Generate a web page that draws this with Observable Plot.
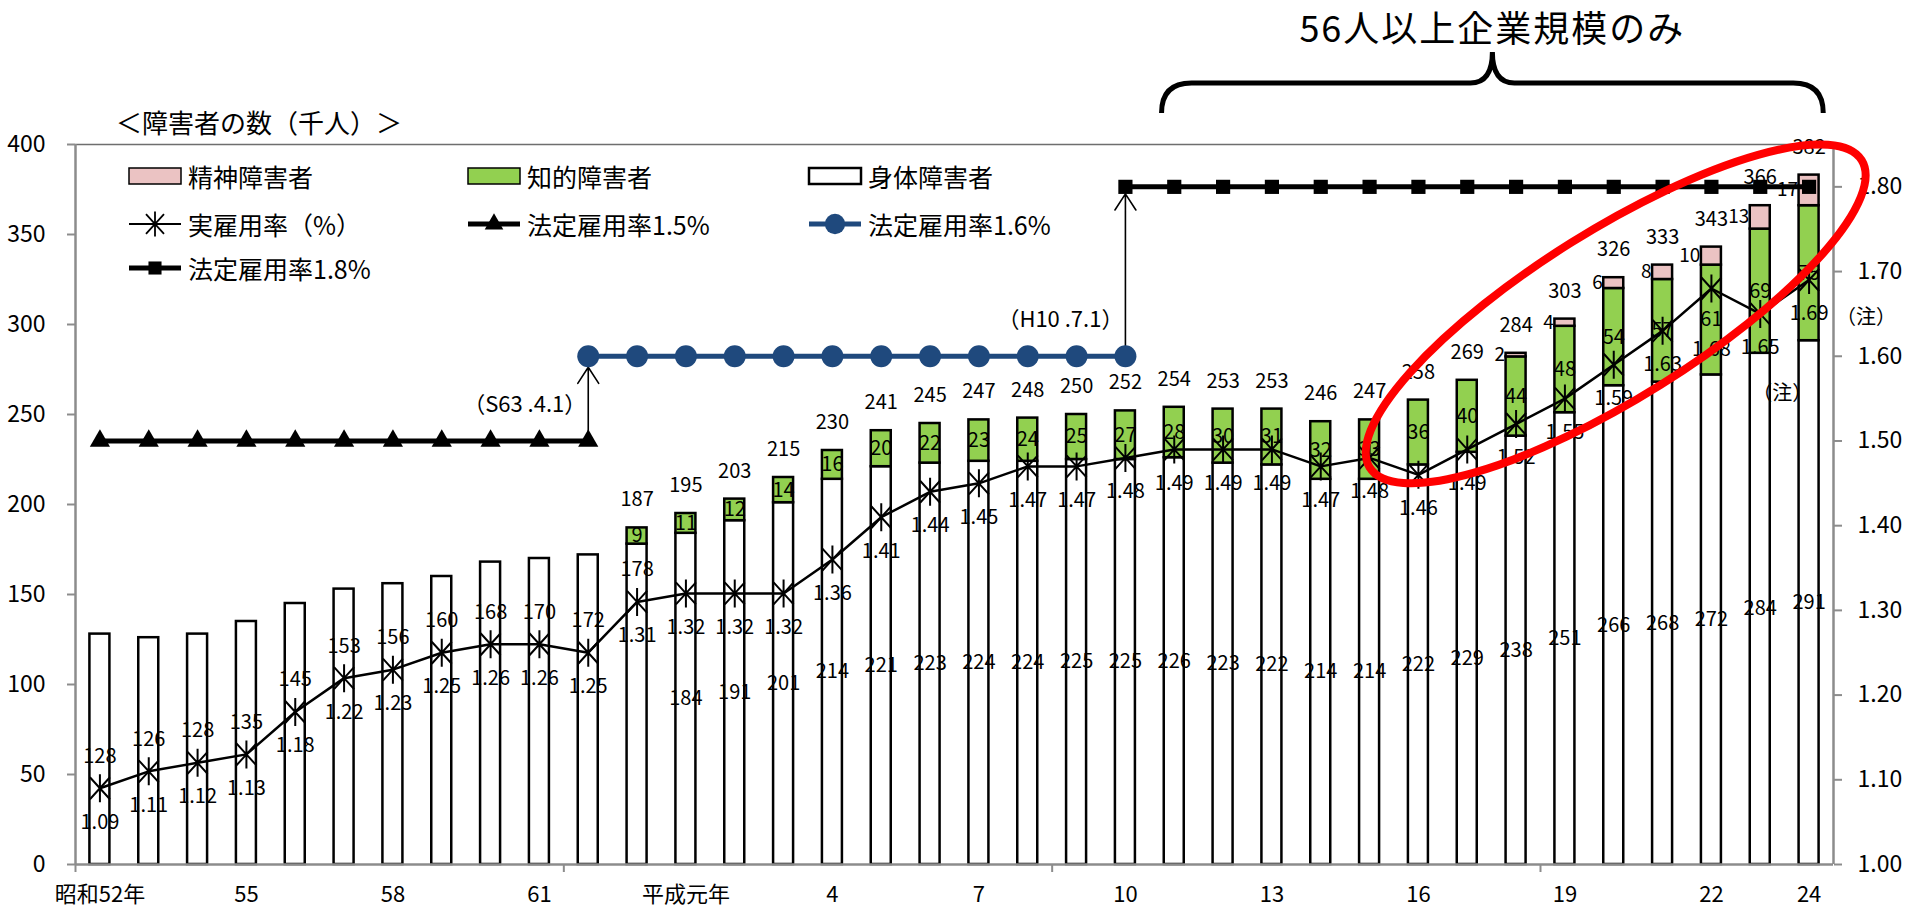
<!DOCTYPE html>
<html>
<head>
<meta charset="utf-8">
<script src="https://cdn.jsdelivr.net/npm/d3@7"></script>
<script src="https://cdn.jsdelivr.net/npm/@observablehq/plot@0.6"></script>
<style>
  html, body { margin: 0; padding: 0; background: #fff; }
  #chart svg { display: block; }
</style>
</head>
<body>
<div id="chart"></div>
<script>
// ---------------- data ----------------
const years = ["S52","S53","S54","S55","S56","S57","S58","S59","S60","S61","S62","S63",
  "H1","H2","H3","H4","H5","H6","H7","H8","H9","H10","H11","H12",
  "H13","H14","H15","H16","H17","H18","H19","H20","H21","H22","H23","H24"];

const tickIndex  = [0, 3, 6, 9, 12, 15, 18, 21, 24, 27, 30, 33, 35];
const tickLabels = ["昭和52年","55","58","61","平成元年","4","7","10","13","16","19","22","24"];

// 身体障害者 (thousand persons)
const physical = [128,126,128,135,145,153,156,160,168,170,172,178,
  184,191,201,214,221,223,224,224,225,225,226,223,
  222,214,214,222,229,238,251,266,268,272,284,291];
// 知的障害者
const intellectual = [null,null,null,null,null,null,null,null,null,null,null,9,
  11,12,14,16,20,22,23,24,25,27,28,30,
  31,32,33,36,40,44,48,54,57,61,69,75];
// 精神障害者
const mental = [null,null,null,null,null,null,null,null,null,null,null,null,
  null,null,null,null,null,null,null,null,null,null,null,null,
  null,null,null,null,null,2,4,6,8,10,13,17];
// total labels above the bars
const totals = [null,null,null,null,null,null,null,null,null,null,null,187,
  195,203,215,230,241,245,247,248,250,252,254,253,
  253,246,247,258,269,284,303,326,333,343,366,382];
// 実雇用率 (%)
const actualRate = [1.09,1.11,1.12,1.13,1.18,1.22,1.23,1.25,1.26,1.26,1.25,1.31,
  1.32,1.32,1.32,1.36,1.41,1.44,1.45,1.47,1.47,1.48,1.49,1.49,
  1.49,1.47,1.48,1.46,1.49,1.52,1.55,1.59,1.63,1.68,1.65,1.69];
// 法定雇用率 series
const legal15 = [1.5,1.5,1.5,1.5,1.5,1.5,1.5,1.5,1.5,1.5,1.5,null,
  null,null,null,null,null,null,null,null,null,null,null,null,
  null,null,null,null,null,null,null,null,null,null,null,null];
const legal16 = [null,null,null,null,null,null,null,null,null,null,1.6,1.6,
  1.6,1.6,1.6,1.6,1.6,1.6,1.6,1.6,1.6,1.6,null,null,
  null,null,null,null,null,null,null,null,null,null,null,null];
const legal18 = [null,null,null,null,null,null,null,null,null,null,null,null,
  null,null,null,null,null,null,null,null,null,1.8,1.8,1.8,
  1.8,1.8,1.8,1.8,1.8,1.8,1.8,1.8,1.8,1.8,1.8,1.8];

const rateTicks = [1.0,1.1,1.2,1.3,1.4,1.5,1.6,1.7,1.8];
const countTicks = [0,50,100,150,200,250,300,350,400];
const seriesNames = ["精神障害者","知的障害者","身体障害者","実雇用率（%）","法定雇用率1.5%","法定雇用率1.6%","法定雇用率1.8%"];
const arrowNotes = ["（S63 .4.1）","（H10 .7.1）"];
const noteText = "（注）";
const leftTitle = "＜障害者の数（千人）＞";
const braceTitle = "56人以上企業規模のみ";

// ---------------- layout / style ----------------
const FONT = '"Noto Sans CJK JP", "Noto Sans", sans-serif';
const GREEN = "#92D050", PINK = "#EBC3C3", BLUE = "#1F497D", GREY = "#8c8c8c";
const W = 1909, H = 909, mL = 75, mR = 76, mT = 144, mB = 45;
const N = years.length;
const plotH = H - mT - mB;
const yMax = 400;
const pxPerUnit = plotH / yMax;
const px = p => p / pxPerUnit;           // pixels -> y units
const rateLo = 1.0, rateHi = 1.85;
const rateToY = r => (r - rateLo) / (rateHi - rateLo) * yMax;
const yToRate = v => rateLo + v / yMax * (rateHi - rateLo);
const bandPx = (W - mL - mR) / N;
const barW = 20;
const barInset = (bandPx - barW) / 2;
const LBL = 20, MLBL = 19, LINEBOX = 29;
const mentDx = -(barW / 2 + 1);

// text measuring (for simple label collision avoidance)
const mctx = document.createElement("canvas").getContext("2d");
const textW = (s, size) => { mctx.font = `${size}px ${FONT}`; return mctx.measureText(s).width; };
const xc = i => bandPx * (i + 0.5);      // relative x centre of a band

const rows = years.map((year, i) => ({
  i, year, phys: physical[i], intel: intellectual[i], ment: mental[i],
  total: totals[i], rate: actualRate[i]
}));

// stacked segments
const segs = [];
rows.forEach(d => {
  let base = 0;
  [["phys", "#ffffff"], ["intel", GREEN], ["ment", PINK]].forEach(([k, c]) => {
    if (d[k] != null) { segs.push({i: d.i, y1: base, y2: base + d[k], fill: c}); base += d[k]; }
  });
});

// labels
const physLabels = rows.map(d => ({
  i: d.i, text: String(d.phys),
  y: d.i < 12 ? rateToY(d.rate) + px(32) : d.phys / 2
}));
const intelLabels = rows.filter(d => d.intel != null).map(d => ({
  i: d.i, text: String(d.intel), y: d.phys + d.intel / 2
}));
const rateLabels = rows.map(d => {
  let y = rateToY(d.rate) - px(34);
  if (d.intel != null) {
    const iy = d.phys + d.intel / 2;
    if (Math.abs(y - iy) < px(18)) y = iy - px(30);
  }
  return {i: d.i, text: d.rate.toFixed(2), y};
});
const mentLabels = rows.filter(d => d.ment != null).map(d => ({
  i: d.i, text: String(d.ment), y: d.phys + d.intel + d.ment / 2
}));
const mentByIndex = new Map(mentLabels.map(m => [m.i, m]));
const totalLabels = rows.filter(d => d.total != null).map(d => {
  const top = d.phys + (d.intel || 0) + (d.ment || 0);
  let y = top + px(28);
  const t = String(d.total), w = textW(t, LBL);
  const nxt = mentByIndex.get(d.i + 1);
  if (nxt) {
    const mRight = xc(nxt.i) + mentDx, mLeft = mRight - textW(nxt.text, MLBL);
    const tLeft = xc(d.i) - w / 2, tRight = xc(d.i) + w / 2;
    const hOverlap = Math.min(tRight, mRight) - Math.max(tLeft, mLeft);
    if (hOverlap > 0.5 && Math.abs(y - nxt.y) < px(LINEBOX)) y = nxt.y + px(LINEBOX + 1);
  }
  return {i: d.i, text: t, y};
});

// legal-rate series
const legalSeries = [
  {vals: legal15, color: "#000", symbol: "triangle", r: 7.5, half: 7},
  {vals: legal16, color: BLUE, symbol: "circle", r: 11, half: 11},
  {vals: legal18, color: "#000", symbol: "square", r: 8, half: 7}
];
const legalPts = legalSeries.map(s => s.vals.map((v, i) => ({i, v})).filter(p => p.v != null));

// transitions (arrows)
const transitions = [];
for (let s = 0; s < legalSeries.length - 1; s++) {
  for (let i = 0; i < N; i++) {
    const a = legalSeries[s].vals[i], b = legalSeries[s + 1].vals[i];
    if (a != null && b != null) transitions.push({i, from: a, to: b, inset: legalSeries[s + 1].half, note: arrowNotes[s]});
  }
}

const asterisk = {
  draw(ctx, size) {
    const r = Math.sqrt(size / Math.PI);
    ctx.moveTo(0, -1.4 * r); ctx.lineTo(0, 1.4 * r);
    ctx.moveTo(-r, -1.1 * r); ctx.lineTo(r, 1.1 * r);
    ctx.moveTo(-r, 1.1 * r); ctx.lineTo(r, -1.1 * r);
  }
};

const labelMap = new Map(tickIndex.map((t, k) => [t, tickLabels[k]]));

const marks = [
  Plot.rectY(segs, {x1: d => d.i - 0.5, x2: d => d.i + 0.5, y1: "y1", y2: "y2", fill: "fill",
    stroke: "#000", strokeWidth: 2.5, insetLeft: barInset, insetRight: barInset}),
  Plot.text(intelLabels, {x: "i", y: "y", text: "text", fontSize: LBL, fill: "#000"}),
  Plot.arrow(transitions, {x1: "i", x2: "i", y1: d => rateToY(d.from), y2: d => rateToY(d.to) - px(d.inset),
    stroke: "#000", strokeWidth: 1.6, headLength: 18, headAngle: 66}),
  Plot.text(transitions, {x: "i", y: d => rateToY(d.from), text: "note", textAnchor: "end", dx: -2, dy: -36, fontSize: 22, fill: "#000"}),
];
legalSeries.forEach((s, k) => {
  marks.push(Plot.line(legalPts[k], {x: "i", y: d => rateToY(d.v), stroke: s.color, strokeWidth: 5}));
  marks.push(Plot.dot(legalPts[k], {x: "i", y: d => rateToY(d.v), symbol: s.symbol, r: s.r, fill: s.color, stroke: "none"}));
});
marks.push(
  Plot.line(rows, {x: "i", y: d => rateToY(d.rate), stroke: "#000", strokeWidth: 2.5}),
  Plot.dot(rows, {x: "i", y: d => rateToY(d.rate), symbol: asterisk, r: 10, fill: "none", stroke: "#000", strokeWidth: 2}),
  Plot.text(physLabels, {x: "i", y: "y", text: "text", fontSize: LBL, fill: "#000"}),
  Plot.text(rateLabels, {x: "i", y: "y", text: "text", fontSize: LBL, fill: "#000"}),
  Plot.text(totalLabels, {x: "i", y: "y", text: "text", fontSize: LBL, fill: "#000"}),
  Plot.text(mentLabels, {x: "i", y: "y", text: "text", textAnchor: "end", dx: mentDx, fontSize: MLBL, fill: "#000"}),
  // notes (注)
  Plot.text(rows.slice(-1), {x: "i", y: d => rateToY(d.rate), text: () => noteText, dx: 57, dy: 38, fontSize: 20, fill: "#000"}),
  Plot.text(rows.slice(-2, -1), {x: "i", y: d => rateToY(d.rate), text: () => noteText, dx: 22, dy: 80, fontSize: 20, fill: "#000"}),
  // axes
  Plot.axisY(countTicks, {anchor: "left", label: null, tickSize: 8, tickPadding: 22, fontSize: 23, stroke: GREY, strokeWidth: 2, fill: "#000"}),
  Plot.axisY(rateTicks.map(rateToY), {anchor: "right", label: null, tickSize: 8, tickPadding: 16, fontSize: 23, stroke: GREY, strokeWidth: 2, fill: "#000",
    tickFormat: v => yToRate(v).toFixed(2)}),
  Plot.axisX([-0.5, 9.5, 19.5, 29.5], {label: null, tickSize: 8, tickFormat: () => "", stroke: GREY, strokeWidth: 2}),
  Plot.axisX(tickIndex, {label: null, tickSize: 0, tickPadding: 22, fontSize: 22, fill: "#000", tickFormat: d => labelMap.get(d)}),
  Plot.ruleY([yMax], {stroke: "#6e6e6e", strokeWidth: 1.5}),
  Plot.ruleX([-0.5], {stroke: GREY, strokeWidth: 2.5}),
  Plot.ruleX([N - 0.5], {stroke: GREY, strokeWidth: 2.5}),
  Plot.ruleY([0], {stroke: GREY, strokeWidth: 2.5})
);

const chart = Plot.plot({
  width: W, height: H,
  marginLeft: mL, marginRight: mR, marginTop: mT, marginBottom: mB,
  x: {type: "linear", domain: [-0.5, N - 0.5], label: null},
  y: {domain: [0, yMax], label: null},
  style: {fontFamily: FONT, fontSize: "20px", color: "#000", background: "#fff", overflow: "visible"},
  marks
});
document.getElementById("chart").appendChild(chart);

// ---------------- annotations: titles, brace, legend, highlight ----------------
const svg = d3.select(chart);
const xs = chart.scale("x"), ys = chart.scale("y");
const X = v => xs.apply(v), Y = v => ys.apply(v);

svg.append("text").attr("x", 116).attr("y", 121).attr("text-anchor", "start").attr("dominant-baseline", "central")
  .attr("font-size", 26).attr("font-family", FONT).attr("fill", "#000").text(leftTitle);

// brace
const bL = X(21.75), bR = X(35.3), bM = (bL + bR) / 2;
const yTop = 52, yMid = 83, yEnd = 113;
svg.append("path")
  .attr("d", `M${bL},${yEnd} Q${bL},${yMid} ${bL + 30},${yMid} L${bM - 22},${yMid} Q${bM},${yMid} ${bM},${yTop} Q${bM},${yMid} ${bM + 22},${yMid} L${bR - 30},${yMid} Q${bR},${yMid} ${bR},${yEnd}`)
  .attr("fill", "none").attr("stroke", "#000").attr("stroke-width", 5);
svg.append("text").attr("x", bM).attr("y", 26).attr("text-anchor", "middle").attr("dominant-baseline", "central")
  .attr("font-size", 36).attr("letter-spacing", 2).attr("font-family", FONT).attr("fill", "#000").text(braceTitle);

// legend
const legend = svg.append("g").attr("font-family", FONT).attr("font-size", 25).attr("text-anchor", "start");
const colX = [129, 468, 809], rowY = [176, 224, 268], swW = 52;
const legendItems = seriesNames.map((name, k) => ({name, k, col: k < 3 ? k : (k - 3) % 3, row: k < 3 ? 0 : k < 6 ? 1 : 2}));
legendItems.forEach(it => {
  const x0 = colX[it.col], y0 = rowY[it.row];
  const g = legend.append("g");
  if (it.k < 3) {
    const fills = [PINK, GREEN, "#fff"];
    g.append("rect").attr("x", x0).attr("y", y0 - 8).attr("width", swW).attr("height", 16)
      .attr("fill", fills[it.k]).attr("stroke", "#000").attr("stroke-width", it.k === 2 ? 2.5 : 1.5);
  } else {
    const k = it.k - 3;
    const color = k === 2 ? BLUE : "#000";
    g.append("line").attr("x1", x0).attr("x2", x0 + swW).attr("y1", y0).attr("y2", y0)
      .attr("stroke", color).attr("stroke-width", k === 0 ? 2 : 5);
    const cx = x0 + swW / 2;
    if (k === 0) {
      const p = d3.path(); asterisk.draw(p, Math.PI * 81);
      g.append("path").attr("d", p.toString()).attr("transform", `translate(${cx},${y0})`).attr("stroke", "#000").attr("stroke-width", 1.8).attr("fill", "none");
    } else {
      const s = legalSeries[k - 1];
      const sym = {triangle: d3.symbolTriangle, circle: d3.symbolCircle, square: d3.symbolSquare}[s.symbol];
      g.append("path").attr("d", d3.symbol(sym, Math.PI * s.r * s.r * 0.85)()).attr("transform", `translate(${cx},${y0})`).attr("fill", color);
    }
  }
  g.append("text").attr("x", x0 + swW + 7).attr("y", y0).attr("text-anchor", "start").attr("dominant-baseline", "central").attr("fill", "#000").text(it.name);
});

// red highlight ellipse around the recent years
const eCx = X(31.05), eCy = Y(305.6);
svg.append("ellipse").attr("cx", 0).attr("cy", 0).attr("rx", 290).attr("ry", 84)
  .attr("transform", `translate(${eCx},${eCy}) rotate(-32)`)
  .attr("fill", "none").attr("stroke", "#ff0000").attr("stroke-width", 8);
</script>
</body>
</html>
